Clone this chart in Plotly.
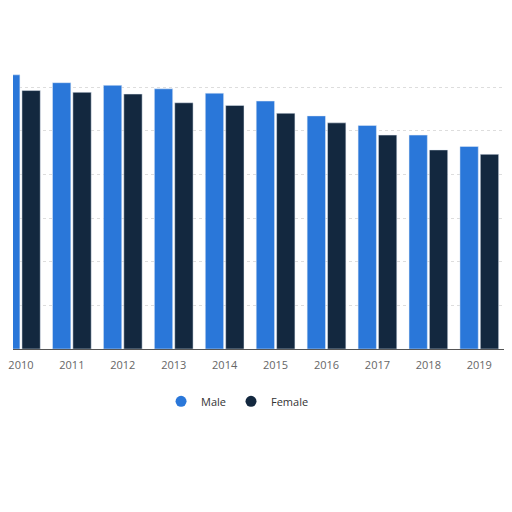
import plotly.graph_objects as go

# years shown on the x axis (2020 is only partly in view at the right edge)
years = ["2010", "2011", "2012", "2013", "2014", "2015", "2016", "2017", "2018", "2019", "2020"]

# values (gridline step taken as 5)
male = [31.4, 30.5, 30.2, 29.8, 29.3, 28.4, 26.7, 25.6, 24.5, 23.2, 23.7]
female = [29.6, 29.4, 29.2, 28.2, 27.9, 27.0, 25.9, 24.5, 22.8, 22.3, 22.6]

MALE_COLOR = "#2a77d9"
FEMALE_COLOR = "#13283f"

fig = go.Figure()

fig.add_trace(go.Bar(x=years, y=male, name="Male",
                     marker=dict(color=MALE_COLOR), showlegend=False))
fig.add_trace(go.Bar(x=years, y=female, name="Female",
                     marker=dict(color=FEMALE_COLOR), showlegend=False))

# round legend markers like the original
fig.add_trace(go.Scatter(x=[None], y=[None], mode="markers", name="Male",
                         marker=dict(color=MALE_COLOR, size=11, symbol="circle")))
fig.add_trace(go.Scatter(x=[None], y=[None], mode="markers", name="Female",
                         marker=dict(color=FEMALE_COLOR, size=11, symbol="circle")))

# page has an 8px body margin, so the figure sits 8px right/down;
# keep it small enough that no scrollbars show up
fig.update_layout(
    width=504,
    height=496,
    margin=dict(l=0, r=0, t=52, b=155),
    paper_bgcolor="white",
    plot_bgcolor="white",
    barmode="group",
    bargap=0.2,
    bargroupgap=0.1,
    font=dict(family="Open Sans, sans-serif", color="#666666"),
    legend=dict(
        orientation="h",
        x=0.45, xanchor="center",
        y=-0.181, yanchor="middle",
        font=dict(size=11, color="#333333"),
        itemwidth=30,
        tracegroupgap=0,
    ),
)

fig.update_xaxes(
    type="category",
    range=[-0.1555, 9.642],
    showgrid=False,
    showline=True,
    linecolor="#555555",
    linewidth=1,
    ticks="",
    ticklabelstandoff=6,
    tickfont=dict(size=11, color="#666666"),
)

fig.update_yaxes(
    range=[0, 33.1],
    dtick=5,
    showticklabels=False,
    showgrid=True,
    gridcolor="#dddddd",
    griddash="dot",
    gridwidth=1,
    zeroline=False,
)

fig.write_html("out.html")
